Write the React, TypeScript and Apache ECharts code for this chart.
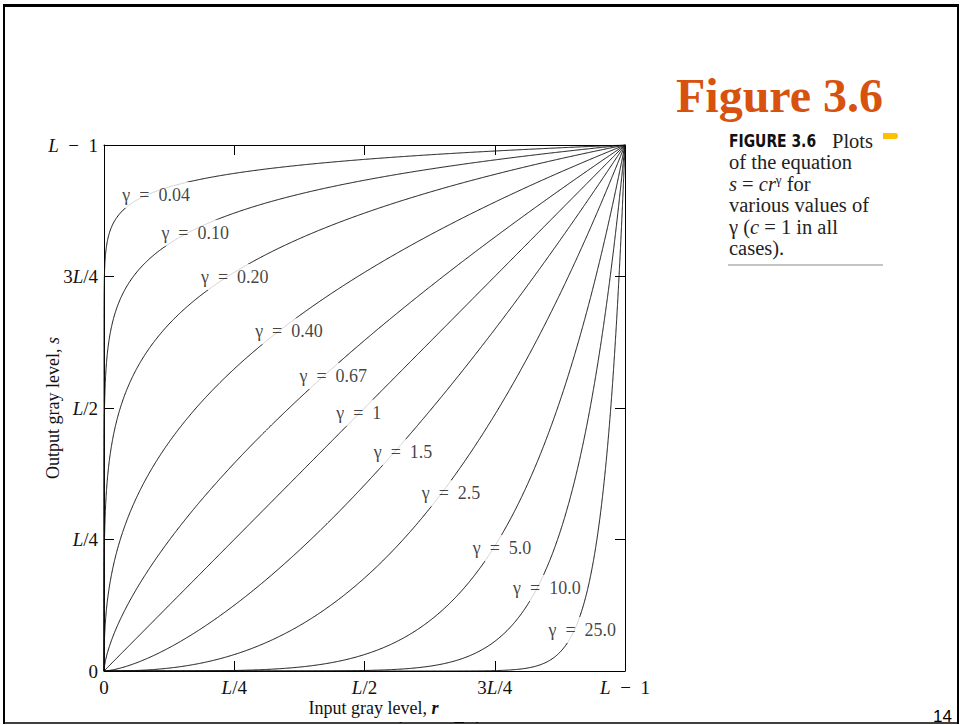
import React, { useEffect, useRef } from "react";
import * as echarts from "echarts";

// gamma values of s = c r^gamma (c = 1)
const GAMMAS = [0.04, 0.1, 0.2, 0.4, 0.67, 1, 1.5, 2.5, 5.0, 10.0, 25.0];
const GAMMA_TEXT = ["0.04", "0.10", "0.20", "0.40", "0.67", "1", "1.5", "2.5", "5.0", "10.0", "25.0"];
// label anchor positions (r, s in units of L-1)
const LABEL_R = [0.1, 0.175, 0.251, 0.355, 0.44, 0.489, 0.574, 0.666, 0.764, 0.85, 0.918];
const LABEL_S = [0.905, 0.833, 0.749, 0.646, 0.561, 0.491, 0.416, 0.338, 0.234, 0.158, 0.078];
const X_TICK_LABELS = ["0", "L/4", "L/2", "3L/4", "L\u00a0\u00a0\u2212\u00a0\u00a01"];
const Y_TICK_LABELS = ["0", "L/4", "L/2", "3L/4", "L\u00a0\u00a0\u2212\u00a0\u00a01"];

const SERIF = "'Liberation Serif', 'Times New Roman', serif";
const SANS = "'Liberation Sans', Arial, sans-serif";
const CONDENSED = "'DejaVu Sans Condensed', 'DejaVu Sans', sans-serif";

function curve(g: number): number[][] {
  const rs: number[] = [];
  const N = 600;
  for (let i = 0; i <= N; i++) {
    rs.push(i / N);
    rs.push(Math.pow(i / N, 1 / g));
  }
  rs.sort((a, b) => a - b);
  const out: number[][] = [];
  let last = -1;
  for (const r of rs) {
    if (r === last) continue;
    last = r;
    out.push([r, Math.pow(r, g)]);
  }
  return out;
}

const tickFmt = (arr: string[]) => (v: number) => {
  const i = Math.round(v * 4);
  return (arr[i] || "").replace(/L/g, "{i|L}");
};

export default function App() {
  const ref = useRef<HTMLDivElement>(null);
  useEffect(() => {
    if (!ref.current) return;
    const chart = echarts.init(ref.current, undefined, { renderer: "svg" });
    const labelRich = {
      i: { fontStyle: "italic", fontFamily: SERIF, fontSize: 19, color: "#111" },
    };
    const axisCommon = {
      type: "value",
      min: 0,
      max: 1,
      interval: 0.25,
      splitLine: { show: false },
      axisLine: { show: true, onZero: false, lineStyle: { color: "#000", width: 1 } },
      axisTick: { show: true, inside: true, length: 10, lineStyle: { color: "#000", width: 1 } },
    };
    const lines = GAMMAS.map((g) => ({
      type: "line",
      data: curve(g),
      showSymbol: false,
      symbol: "none",
      silent: true,
      clip: true,
      lineStyle: { color: "#111", width: 1 },
      z: 2,
    }));
    const labels = {
      type: "scatter",
      symbolSize: 1,
      itemStyle: { color: "rgba(0,0,0,0)" },
      silent: true,
      z: 10,
      label: {
        show: true,
        position: "inside",
        formatter: (p: any) => p.name,
        fontFamily: SERIF,
        fontSize: 18,
        color: "#111",
        backgroundColor: "#fff",
        padding: [4, 2],
      },
      data: GAMMAS.map((g, i) => ({
        name: "\u03b3\u00a0 =\u00a0 " + GAMMA_TEXT[i],
        value: [LABEL_R[i], LABEL_S[i]],
      })),
    };
    chart.setOption({
      animation: false,
      backgroundColor: "#fff",
      grid: { left: 104, top: 145, width: 521, height: 526 },
      xAxis: [
        {
          ...axisCommon,
          position: "bottom",
          axisLabel: {
            margin: 7,
            fontFamily: SERIF,
            fontSize: 19,
            color: "#111",
            showMinLabel: true,
            showMaxLabel: true,
            formatter: tickFmt(X_TICK_LABELS),
            rich: labelRich,
          },
          name: "Input gray level, {b|r}",
          nameLocation: "middle",
          nameGap: 28,
          nameMoveOverlap: false,
          nameTextStyle: {
            fontFamily: SERIF,
            fontSize: 18,
            color: "#111",
            padding: [0, 0, 0, 18],
            rich: { b: { fontFamily: SERIF, fontSize: 18, fontStyle: "italic", fontWeight: "bold", color: "#111" } },
          },
        },
        { ...axisCommon, position: "top", axisLabel: { show: false } },
      ],
      yAxis: [
        {
          ...axisCommon,
          position: "left",
          axisLabel: {
            margin: 6,
            fontFamily: SERIF,
            fontSize: 19,
            color: "#111",
            showMinLabel: true,
            showMaxLabel: true,
            formatter: tickFmt(Y_TICK_LABELS),
            rich: labelRich,
          },
          name: "Output gray level, {i|s}",
          nameLocation: "middle",
          nameGap: 42,
          nameMoveOverlap: false,
          nameTextStyle: {
            fontFamily: SERIF,
            fontSize: 18,
            color: "#111",
            rich: { i: { fontFamily: SERIF, fontSize: 18, fontStyle: "italic", color: "#111" } },
          },
        },
        { ...axisCommon, position: "right", axisLabel: { show: false } },
      ],
      series: [...lines, labels],
      graphic: [
        {
          type: "text",
          x: 676,
          y: 95,
          style: {
            text: "Figure 3.6",
            fontFamily: SERIF,
            fontWeight: "bold",
            fontSize: 48,
            fill: "#D6520E",
            verticalAlign: "middle",
          },
        },
        {
          type: "text",
          x: 729,
          y: 141,
          scaleX: 0.86,
          style: {
            text: "FIGURE 3.6",
            fontFamily: CONDENSED,
            fontWeight: "bold",
            fontSize: 18,
            fill: "#111",
            verticalAlign: "middle",
          },
        },
        {
          type: "text",
          x: 832,
          y: 141,
          style: {
            text: "Plots",
            fontFamily: SERIF,
            fontSize: 20.5,
            fill: "#222",
            verticalAlign: "middle",
          },
        },
        {
          type: "text",
          x: 729,
          y: 151.5,
          style: {
            text: "{t|of the equation}\n{ti|s}{t| = }{ti|cr}{sup|\u03b3}{t| for}\n{t|various values of}\n{t|\u03b3 (}{ti|c}{t| = 1 in all}\n{t|cases).}",
            fill: "#222",
            rich: {
              t: { fontFamily: SERIF, fontSize: 20.5, lineHeight: 21.5, color: "#222" },
              ti: { fontFamily: SERIF, fontSize: 20.5, fontStyle: "italic", lineHeight: 21.5, color: "#222" },
              sup: { fontFamily: SERIF, fontSize: 13, lineHeight: 21.5, verticalAlign: "top", color: "#222" },
            },
          },
        },
        {
          type: "line",
          shape: { x1: 728, y1: 265, x2: 883, y2: 265 },
          style: { stroke: "#c4c4c4", lineWidth: 2 },
        },
        {
          type: "rect",
          shape: { x: 883, y: 133, width: 15, height: 6, r: [0, 3, 3, 0] },
          style: { fill: "#FFC000" },
        },
        {
          type: "text",
          x: 933,
          y: 716,
          style: { text: "14", fontFamily: SANS, fontSize: 17, fill: "#000", verticalAlign: "middle" },
        },
        {
          type: "text",
          x: 398,
          y: 720,
          z: 1,
          style: { text: "Image Enhancement", fontFamily: SANS, fontSize: 18, fill: "#000", verticalAlign: "top" },
        },
        {
          type: "rect",
          z: 2,
          shape: { x: 300, y: 723, width: 400, height: 10 },
          style: { fill: "#fff" },
        },
        {
          type: "line",
          z: 3,
          shape: { x1: 3, y1: 5.5, x2: 959, y2: 5.5 },
          style: { stroke: "#000", lineWidth: 3 },
        },
        {
          type: "line",
          z: 3,
          shape: { x1: 4, y1: 4, x2: 4, y2: 724 },
          style: { stroke: "#000", lineWidth: 2 },
        },
        {
          type: "line",
          z: 3,
          shape: { x1: 958, y1: 4, x2: 958, y2: 724 },
          style: { stroke: "#000", lineWidth: 2 },
        },
        {
          type: "line",
          z: 3,
          shape: { x1: 3, y1: 723, x2: 959, y2: 723 },
          style: { stroke: "#000", lineWidth: 1.5 },
        },
      ],
    });
    return () => chart.dispose();
  }, []);
  return (
    <div
      ref={ref}
      style={{ position: "fixed", left: 0, top: 0, width: 960, height: 725, background: "#fff" }}
    />
  );
}
